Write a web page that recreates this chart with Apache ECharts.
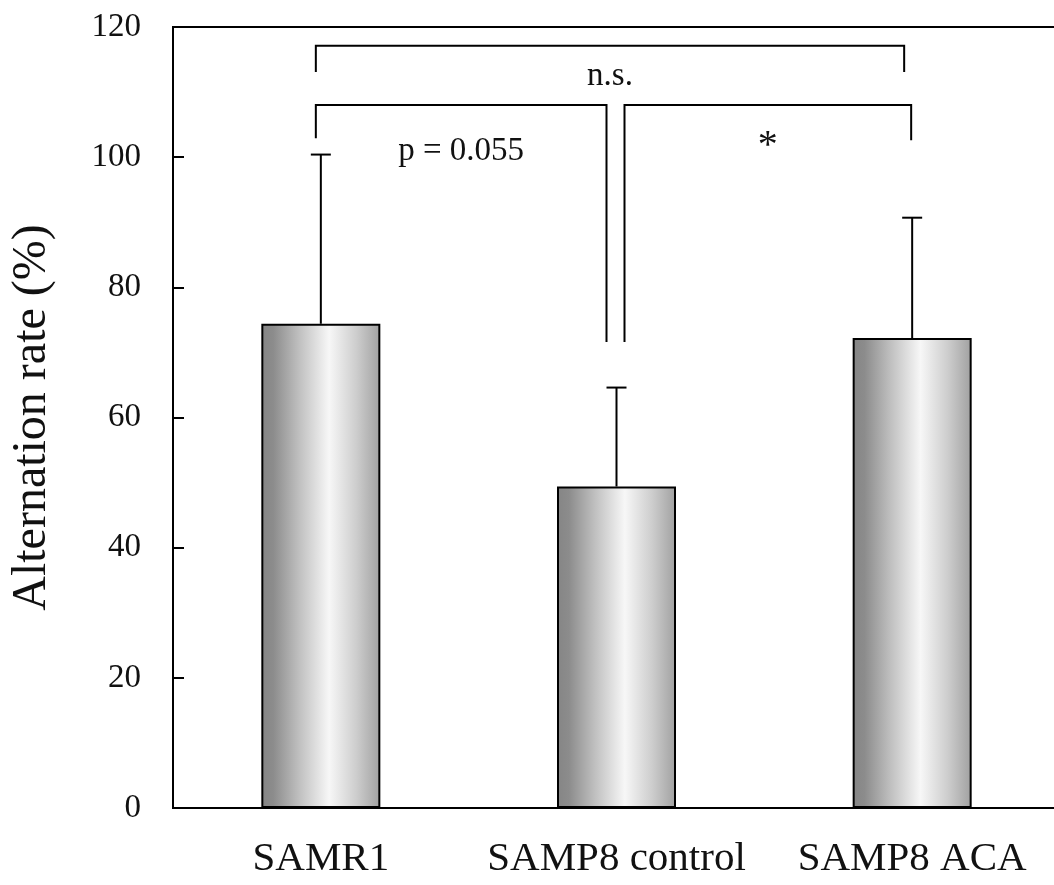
<!DOCTYPE html>
<html>
<head>
<meta charset="utf-8">
<script src="https://cdn.jsdelivr.net/npm/echarts@6/dist/echarts.min.js"></script>
<style>
  html, body { margin: 0; padding: 0; background: #fff; }
  #chart { width: 1054px; height: 885px; }
</style>
</head>
<body>
<div id="chart"></div>
<script>
// 数据
const groups = ['SAMR1', 'SAMP8 control', 'SAMP8 ACA']
const means = [74.4, 49.4, 72.2]
const sds = [26.0, 15.2, 18.5]
const yTicks = { min: 0, max: 120, interval: 20 }

// 显著性括号 (y 为数据单位)
const bracketFrom = [0, 0, 1]
const bracketTo = [2, 1, 2]
const bracketLevel = [117.1, 108.0, 108.0]
const bracketLeftEnd = [113.1, 102.9, 71.6]
const bracketRightEnd = [113.1, 71.6, 102.6]
const bracketLabels = ['n.s.', 'p = 0.055', '*']
const bracketLabelY = [112.4, 100.9, 101.6]

// 括号左右端像素微调 / 标注字号
const leftNudge = [-5, -5, 8]
const rightNudge = [-8, -10, -1]
const bracketFontSize = [33, 33, 40]

const font = "'Liberation Serif', 'Times New Roman', serif"
const ink = '#111'

const chart = echarts.init(document.getElementById('chart'))

const barFill = new echarts.graphic.LinearGradient(0, 0, 1, 0, [
  { offset: 0, color: '#858585' },
  { offset: 0.1, color: '#8c8c8c' },
  { offset: 0.32, color: '#c0c0c0' },
  { offset: 0.57, color: '#f7f7f7' },
  { offset: 0.8, color: '#cdcdcd' },
  { offset: 1, color: '#a0a0a0' }
])

const option = {
  animation: false,
  backgroundColor: '#fff',
  grid: {
    left: 173,
    top: 27,
    width: 887,
    bottom: 77,
    outerBoundsMode: 'none',
    show: true,
    borderColor: '#000',
    borderWidth: 2
  },
  xAxis: {
    type: 'category',
    data: groups,
    axisLine: { lineStyle: { color: '#000', width: 2 } },
    axisTick: { show: false },
    axisLabel: { interval: 0, color: ink, fontFamily: font, fontSize: 41, margin: 31 }
  },
  yAxis: {
    type: 'value',
    min: yTicks.min,
    max: yTicks.max,
    interval: yTicks.interval,
    name: 'Alternation rate (%)',
    nameLocation: 'middle',
    nameGap: 117,
    nameTextStyle: { color: ink, fontFamily: font, fontSize: 48 },
    axisLine: { show: true, lineStyle: { color: '#000', width: 2 } },
    axisTick: { show: true, inside: true, length: 11, lineStyle: { color: '#000', width: 2 } },
    axisLabel: { color: ink, fontFamily: font, fontSize: 33, margin: 32 },
    splitLine: { show: false }
  },
  series: [
    {
      type: 'bar',
      data: means,
      barWidth: 119,
      itemStyle: { color: barFill, borderColor: '#000', borderWidth: 2 },
      z: 3
    },
    {
      // 误差线
      type: 'custom',
      data: means.map((m, i) => [i, m, sds[i]]),
      encode: { x: 0, y: 1 },
      z: 2,
      renderItem: (params, api) => {
        const i = api.value(0)
        const base = api.coord([i, api.value(1)])
        const top = api.coord([i, api.value(1) + api.value(2)])
        const style = { stroke: '#000', lineWidth: 2 }
        return {
          type: 'group',
          children: [
            { type: 'line', shape: { x1: base[0], y1: base[1], x2: top[0], y2: top[1] }, style },
            { type: 'line', shape: { x1: top[0] - 10, y1: top[1], x2: top[0] + 10, y2: top[1] }, style }
          ]
        }
      }
    },
    {
      // 显著性括号
      type: 'custom',
      data: bracketFrom.map((f, i) => [f, bracketLevel[i]]),
      encode: { x: 0, y: 1 },
      z: 4,
      renderItem: (params, api) => {
        const k = params.dataIndex
        const x0 = api.coord([bracketFrom[k], 0])[0] + leftNudge[k]
        const x1 = api.coord([bracketTo[k], 0])[0] + rightNudge[k]
        const yTop = api.coord([0, bracketLevel[k]])[1]
        const yL = api.coord([0, bracketLeftEnd[k]])[1]
        const yR = api.coord([0, bracketRightEnd[k]])[1]
        const yText = api.coord([0, bracketLabelY[k]])[1]
        return {
          type: 'group',
          children: [
            {
              type: 'polyline',
              shape: { points: [[x0, yL], [x0, yTop], [x1, yTop], [x1, yR]] },
              style: { stroke: '#000', lineWidth: 2, fill: null }
            },
            {
              type: 'text',
              x: (x0 + x1) / 2,
              y: yText,
              style: {
                text: bracketLabels[k],
                fill: ink,
                font: `${bracketFontSize[k]}px ${font}`,
                align: 'center',
                verticalAlign: 'middle'
              }
            }
          ]
        }
      }
    }
  ]
}

chart.setOption(option)
window.addEventListener('resize', () => chart.resize())
</script>
</body>
</html>
